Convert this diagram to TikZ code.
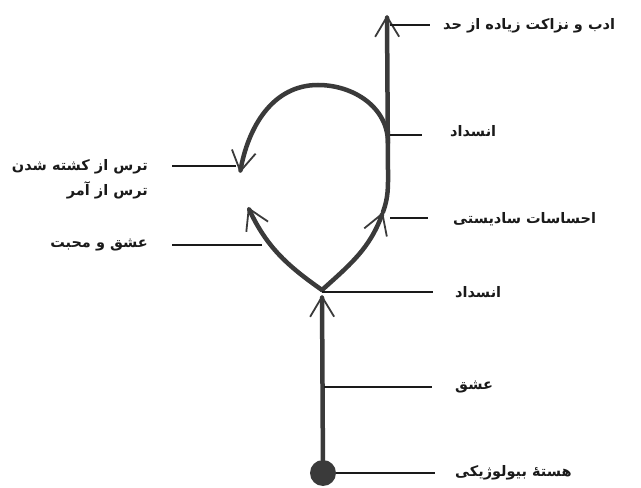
\documentclass[tikz,border=0pt]{standalone}
\usepackage{fontspec}
\usepackage{tikz}
\usetikzlibrary{arrows.meta,positioning}
\TeXXeTstate=1
\newfontfamily\farsifont[Script=Arabic]{DejaVu Sans}
\definecolor{ink}{HTML}{1A1A1A}
\definecolor{inkgray}{HTML}{3A3A3A}
\tikzset{
  pathline/.style={draw=inkgray,line width=4.5pt,line cap=round},
  barbtip/.style={-{Straight Barb[length=20pt,width=24pt,line width=1.8pt]}},
  tagline/.style={draw=ink,line width=1.6pt},
  rlabel/.style={anchor=west,inner sep=0pt,text=ink,
                 font=\farsifont\bfseries\fontsize{14.5}{18}\selectfont},
  llabel/.style={anchor=east,inner sep=0pt,align=right,text=ink,
                 font=\farsifont\bfseries\fontsize{14.5}{25}\selectfont}
}

\begin{document}
\begin{tikzpicture}[x=1pt,y=1pt]
  \useasboundingbox (0,0) rectangle (641,488);
  \coordinate (fork) at (322,198);
  \coordinate (stemtip) at (322,193);
  \coordinate (sadmark) at (383,276);
  \coordinate (bend) at (388,318);
  \coordinate (topend) at (387,473);
  \coordinate (split) at (388,345);
  \coordinate (apex) at (318,403);
  \coordinate (fearend) at (240,315);
  \coordinate (loveend) at (248,281);
  \node[fill=inkgray,circle,inner sep=0pt,minimum size=26pt] (core) at (323,15) {};
  \draw[pathline,barbtip] (core) -- (stemtip);
  \draw[pathline,barbtip] (fork) to[out=42,in=-110] (sadmark);
  \draw[pathline,barbtip] (sadmark) to[out=70,in=-90] (bend) -- (topend);
  \draw[pathline,barbtip] (split) to[out=90,in=0] (apex) to[out=180,in=80] (fearend);
  \draw[pathline,barbtip] (fork) to[out=145,in=-65] (loveend);

  \node[rlabel] (t-excess) at (443,462) {\beginR ادب و نزاکت زیاده از حد\endR};
  \node[rlabel] (t-block1) at (450,357) {\beginR انسداد\endR};
  \node[rlabel] (t-sadism) at (453,269) {\beginR احساسات سادیستی\endR};
  \node[rlabel] (t-block2) at (455,196) {\beginR انسداد\endR};
  \node[rlabel] (t-love) at (455,101) {\beginR عشق\endR};
  \node[rlabel] (t-core) at (455,15) {\beginR هستهٔ بیولوژیکی\endR};
  \node[llabel] (t-fear) at (148,309) {\beginR ترس از کشته شدن\endR\\\beginR ترس از آمر\endR};
  \node[llabel] (t-eros) at (148,243) {\beginR عشق و محبت\endR};

  \coordinate (c-excess) at (390,463);
  \coordinate (c-block1) at (390,353);
  \coordinate (c-sadism) at (390,270);
  \coordinate (c-block2) at (322,196);
  \coordinate (c-love) at (324,101);
  \coordinate (c-core) at (336,15);
  \coordinate (c-fear) at (236,322);
  \coordinate (c-eros) at (262,243);
  \draw[tagline,shorten >=13pt] (c-excess) -- (c-excess -| t-excess.west);
  \draw[tagline,shorten >=28pt] (c-block1) -- (c-block1 -| t-block1.west);
  \draw[tagline,shorten >=25pt] (c-sadism) -- (c-sadism -| t-sadism.west);
  \draw[tagline,shorten >=22pt] (c-block2) -- (c-block2 -| t-block2.west);
  \draw[tagline,shorten >=23pt] (c-love) -- (c-love -| t-love.west);
  \draw[tagline,shorten >=20pt] (c-core) -- (c-core -| t-core.west);
  \draw[tagline,shorten >=24pt] (c-fear) -- (c-fear -| t-fear.east);
  \draw[tagline,shorten >=24pt] (c-eros) -- (c-eros -| t-eros.east);
\end{tikzpicture}
\end{document}
